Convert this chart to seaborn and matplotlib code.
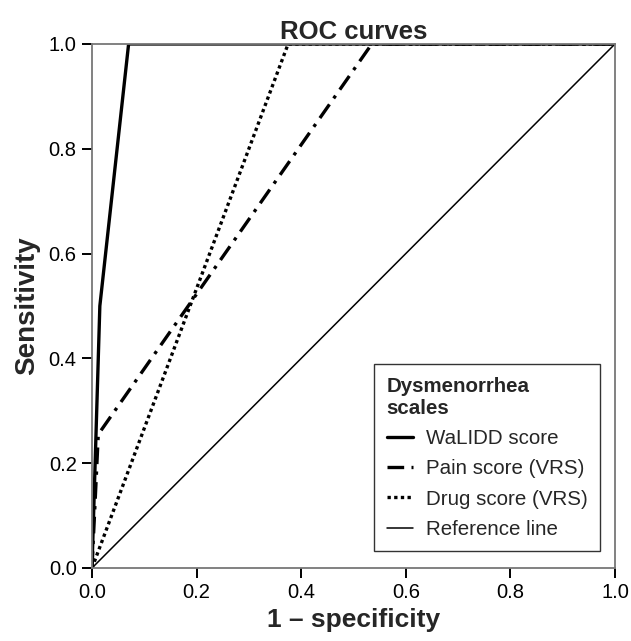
import pandas as pd
import matplotlib
matplotlib.use("Agg")
import matplotlib.pyplot as plt
import seaborn as sns

# ROC points
walidd_fpr = [0.0, 0.015, 0.07, 1.0]
walidd_tpr = [0.0, 0.50, 1.0, 1.0]
pain_fpr = [0.0, 0.012, 0.535, 1.0]
pain_tpr = [0.0, 0.255, 1.0, 1.0]
drug_fpr = [0.0, 0.375, 1.0]
drug_tpr = [0.0, 1.0, 1.0]
ref_fpr = [0.0, 1.0]
ref_tpr = [0.0, 1.0]

labels = ["WaLIDD score", "Pain score (VRS)", "Drug score (VRS)", "Reference line"]
ticks = [0.0, 0.2, 0.4, 0.6, 0.8, 1.0]


def main():
    sns.set_style("ticks")
    plt.rcParams["font.family"] = ["Liberation Sans", "DejaVu Sans"]
    plt.rcParams["xtick.major.size"] = 7
    plt.rcParams["ytick.major.size"] = 7
    plt.rcParams["xtick.major.width"] = 1.4
    plt.rcParams["ytick.major.width"] = 1.4
    plt.rcParams["xtick.color"] = "black"
    plt.rcParams["ytick.color"] = "black"

    fig = plt.figure(figsize=(6.31, 6.41), dpi=100)
    ax = fig.add_axes([0.1458, 0.1139, 0.8288, 0.8175])

    curves = [
        (walidd_fpr, walidd_tpr, dict(color="black", linewidth=2.4, linestyle="-")),
        (pain_fpr, pain_tpr, dict(color="black", linewidth=2.4, linestyle=(0, (5, 2.2, 1, 2.2)))),
        (drug_fpr, drug_tpr, dict(color="black", linewidth=2.4, linestyle=(0, (1, 1)))),
        (ref_fpr, ref_tpr, dict(color="black", linewidth=1.1, linestyle="-")),
    ]
    for (fpr, tpr, style), label in zip(curves, labels):
        df = pd.DataFrame({"fpr": fpr, "tpr": tpr})
        sns.lineplot(data=df, x="fpr", y="tpr", ax=ax, label=label,
                     sort=False, estimator=None, **style)

    ax.set_xlim(0, 1)
    ax.set_ylim(0, 1)
    ax.set_xticks(ticks)
    ax.set_yticks(ticks)
    ax.set_xticklabels([f"{t:.1f}" for t in ticks], fontsize=14.5)
    ax.set_yticklabels([f"{t:.1f}" for t in ticks], fontsize=14.5)
    ax.tick_params(axis="both", which="major", bottom=True, left=True,
                   direction="out", length=7, width=1.4, colors="black", pad=4)
    for s in ax.spines.values():
        s.set_visible(True)
        s.set_color("#777777")
        s.set_linewidth(1.3)

    ax.set_xlabel("1 \u2013 specificity", fontsize=19, fontweight="bold", labelpad=4)
    ax.set_ylabel("Sensitivity", fontsize=20, fontweight="bold", labelpad=6)
    ax.set_title("ROC curves", fontsize=18.5, fontweight="bold", pad=2)

    leg = ax.legend(title="Dysmenorrhea\nscales", loc="lower right",
                    bbox_to_anchor=(0.971, 0.032), borderaxespad=0,
                    fontsize=14.8,
                    title_fontproperties={"weight": "bold", "size": 14.8},
                    frameon=True, fancybox=False, edgecolor="black",
                    handlelength=1.3, handletextpad=0.6, borderpad=0.6,
                    labelspacing=0.55)
    leg.get_frame().set_linewidth(1.0)
    leg._legend_box.align = "left"

    fig.savefig("out.png", dpi=100)


if __name__ == "__main__":
    main()
